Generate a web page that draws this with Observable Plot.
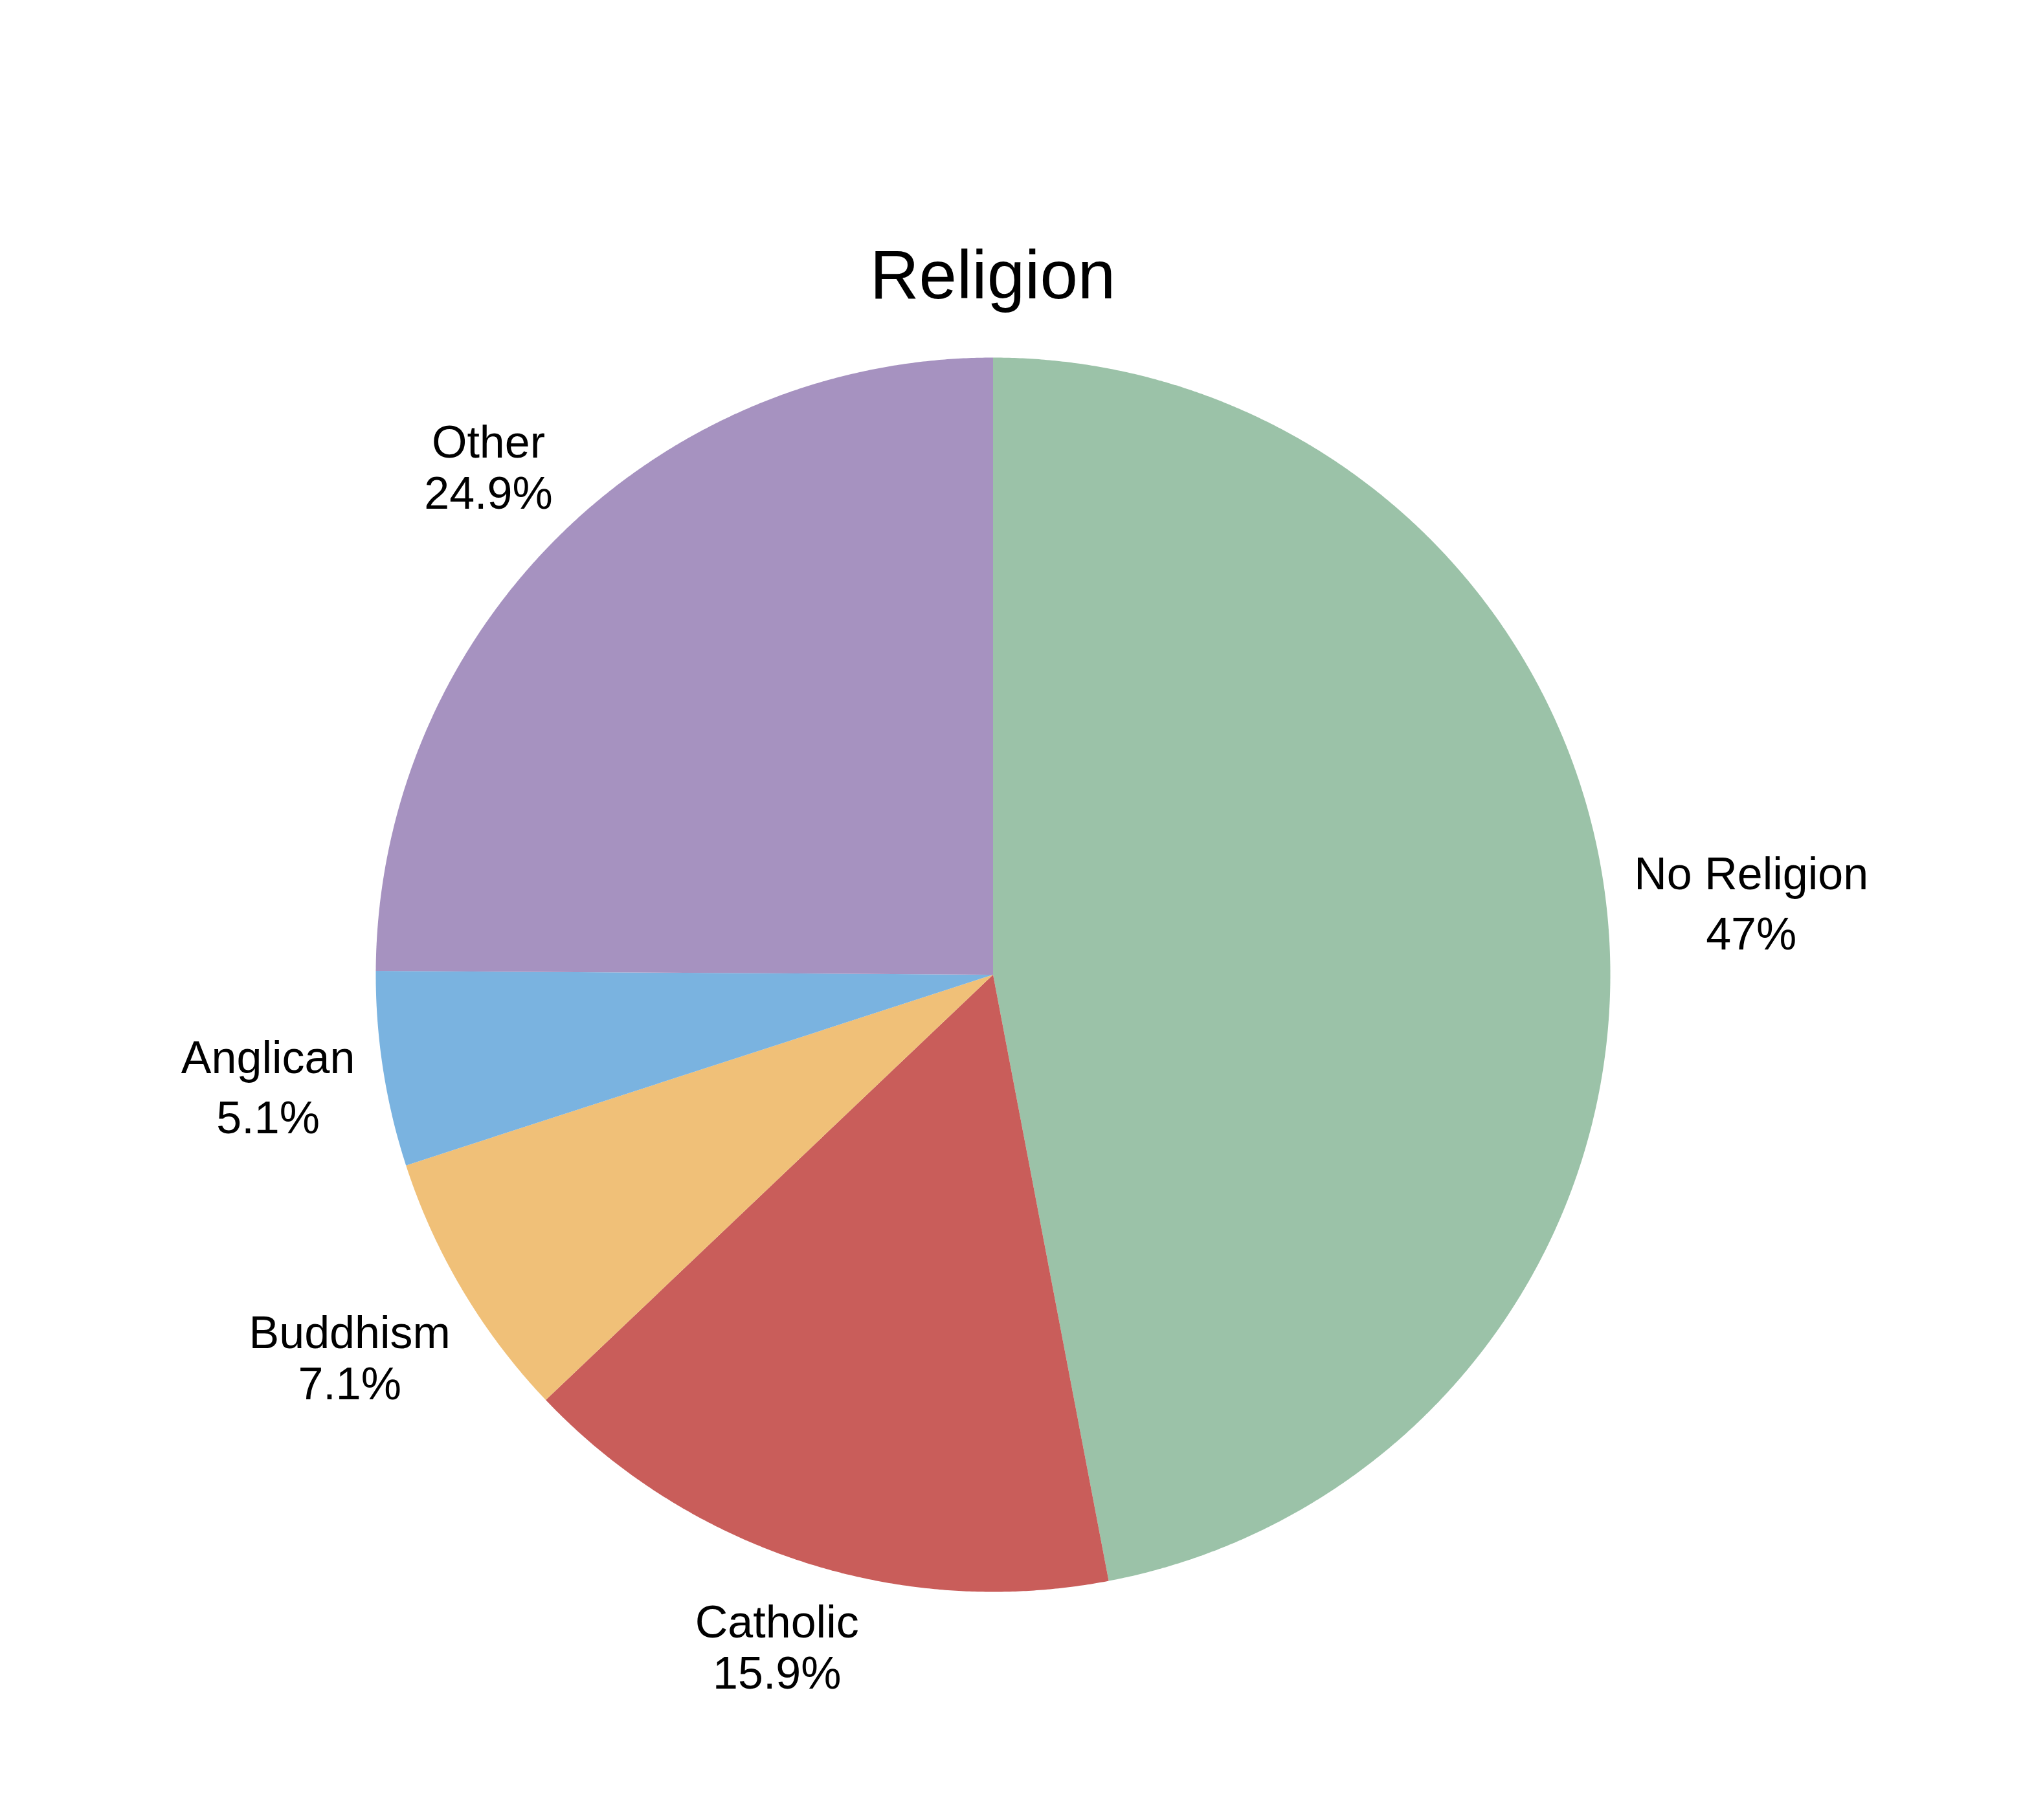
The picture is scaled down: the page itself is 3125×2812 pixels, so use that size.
<!DOCTYPE html>
<html>
<head>
<meta charset="utf-8">
<script src="https://cdn.jsdelivr.net/npm/d3@7"></script>
<script src="https://cdn.jsdelivr.net/npm/@observablehq/plot@0.6"></script>
<style>
  html, body { margin: 0; padding: 0; background: #ffffff; }
  #title {
    width: 3067px;
    margin-top: 372px;
    height: 105px;
    line-height: 105px;
    font-family: "Liberation Sans", Arial, sans-serif;
    font-size: 105px;
    text-align: center;
    color: #000;
  }
</style>
</head>
<body>
<div id="title">Religion</div>
<div id="chart"></div>
<script>
// ---- data ----
const categories = ["No Religion", "Catholic", "Buddhism", "Anglican", "Other"];
const values = [47, 15.9, 7.1, 5.1, 24.9];
const pctLabels = ["47%", "15.9%", "7.1%", "5.1%", "24.9%"];
const colors = ["#9bc2a8", "#c95d5a", "#f0c078", "#7ab3e0", "#a692c0"];

// ---- layout ----
const W = 3125, H = 2335;
const cx = 1533.5, cy = 1505.5 - 477; // pie centre inside the svg
const R = 953.5;
const FONT = "Liberation Sans";
const FS = 70;
const labelPad = 36;
const lineGap = 28;

const pie = d3.pie().sort(null).value(d => d.value).startAngle(0).endAngle(2 * Math.PI);
const rows = categories.map((c, i) => ({name: c, value: values[i], pct: pctLabels[i], color: colors[i]}));
const arcs = pie(rows);

// slice outlines (angles from 12 o'clock, clockwise)
const slicePts = arcs.map(a => {
  const pts = [{x: 0, y: 0}];
  const n = Math.max(8, Math.ceil((a.endAngle - a.startAngle) / (Math.PI / 720)));
  for (let k = 0; k <= n; k++) {
    const t = a.startAngle + (a.endAngle - a.startAngle) * k / n;
    pts.push({x: R * Math.sin(t), y: -R * Math.cos(t)});
  }
  return {name: a.data.name, color: a.data.color, pts};
});

// text measurement
const ctx = document.createElement("canvas").getContext("2d");
ctx.font = `${FS}px "${FONT}"`;
function m(s) {
  const r = ctx.measureText(s);
  return {w: r.width, asc: r.actualBoundingBoxAscent, desc: Math.max(0, r.actualBoundingBoxDescent)};
}

const nameTexts = [], pctTexts = [];
arcs.forEach(a => {
  const mid = (a.startAngle + a.endAngle) / 2;
  const ux = Math.sin(mid), uy = -Math.cos(mid);
  const mn = m(a.data.name), mp = m(a.data.pct);
  const hw = Math.max(mn.w, mp.w) / 2;
  const bh = mn.asc + mn.desc + lineGap + mp.asc + mp.desc;
  const hh = bh / 2;
  const d = R + labelPad + hw * Math.abs(ux) + hh * Math.abs(uy);
  const bx = ux * d, by = uy * d;
  const nameBase = by - hh + mn.asc;
  const pctBase = nameBase + mn.desc + lineGap + mp.asc;
  nameTexts.push({x: bx, y: nameBase, text: a.data.name});
  pctTexts.push({x: bx, y: pctBase, text: a.data.pct});
});

const marks = slicePts.map(s =>
  Plot.line(s.pts, {x: "x", y: "y", fill: s.color, stroke: "none", curve: "linear-closed"})
);
marks.push(
  Plot.text(nameTexts, {x: "x", y: "y", text: "text", textAnchor: "middle", lineAnchor: "bottom",
    fontSize: FS, fontFamily: FONT, fill: "#000"}),
  Plot.text(pctTexts, {x: "x", y: "y", text: "text", textAnchor: "middle", lineAnchor: "bottom",
    fontSize: FS, fontFamily: FONT, fill: "#000"})
);

const chart = Plot.plot({
  width: W,
  height: H,
  margin: 0,
  style: {background: "#ffffff", fontFamily: FONT},
  x: {domain: [-cx, W - cx], range: [0, W], axis: null},
  y: {domain: [-cy, H - cy], range: [0, H], axis: null},
  marks
});
document.getElementById("chart").appendChild(chart);
</script>
</body>
</html>
